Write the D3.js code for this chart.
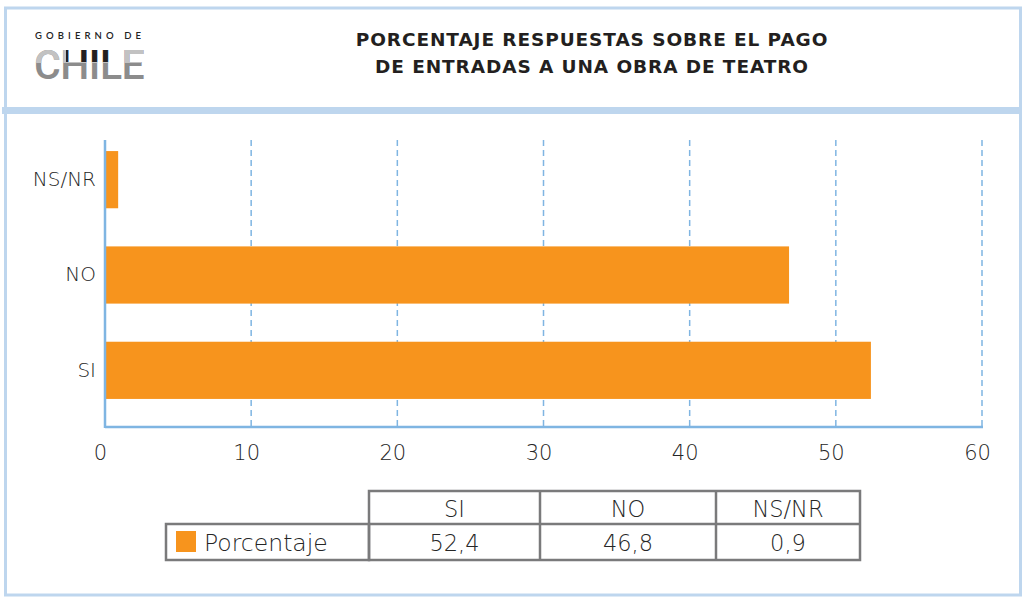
<!DOCTYPE html>
<html>
<head>
<meta charset="utf-8">
<script src="https://cdn.jsdelivr.net/npm/d3@7"></script>
<style>
  body { margin: 0; background: #fff; }
  svg { display: block; font-family: "DejaVu Sans", sans-serif; }
</style>
</head>
<body>
<svg id="chart" width="1023" height="599"></svg>
<script>
// data
var categories = ["SI", "NO", "NS/NR"];
var values = [52.4, 46.8, 0.9];
var valueLabels = ["52,4", "46,8", "0,9"];
var seriesName = "Porcentaje";
var xTicks = [0, 10, 20, 30, 40, 50, 60];
var titleLines = ["PORCENTAJE RESPUESTAS SOBRE EL PAGO", "DE ENTRADAS A UNA OBRA DE TEATRO"];

var orange = "#f7941d";
var frameBlue = "#bed6ee";
var gridBlue = "#7fb5e2";
var lightFont = "'DejaVu Sans', sans-serif";
var textColor = "#262626";

var svg = d3.select("#chart");

// frame
svg.append("rect")
  .attr("x", 5.5).attr("y", 8)
  .attr("width", 1015).attr("height", 587)
  .attr("fill", "none")
  .attr("stroke", frameBlue)
  .attr("stroke-width", 3);

svg.append("rect")
  .attr("x", 2).attr("y", 107)
  .attr("width", 1019).attr("height", 7)
  .attr("fill", frameBlue);

// logo
svg.append("text")
  .attr("x", 35).attr("y", 39)
  .attr("font-size", 9.5)
  .attr("font-family", "Lato, sans-serif")
  .attr("font-weight", 600)
  .attr("letter-spacing", 4.1)
  .attr("fill", "#222")
  .text("GOBIERNO DE");

var defs = svg.append("defs");
defs.append("clipPath").attr("id", "logoTop")
  .append("rect").attr("x", 30).attr("y", 40).attr("width", 125).attr("height", 23);
defs.append("clipPath").attr("id", "logoDark")
  .append("rect").attr("x", 66).attr("y", 40).attr("width", 55).attr("height", 22);

function logoWord(fill, clip) {
  var t = svg.append("text")
    .attr("x", 34).attr("y", 79)
    .attr("font-size", 41)
    .attr("font-family", "Roboto, sans-serif")
    .attr("font-weight", 500)
    .attr("letter-spacing", -0.5)
    .attr("fill", fill)
    .text("CHILE");
  if (clip) t.attr("clip-path", "url(#" + clip + ")");
  return t;
}
logoWord("#8c8c8c");
logoWord("#c2c2c2", "logoTop");
logoWord("#231f20", "logoDark");

// title
svg.selectAll(".title")
  .data(titleLines)
  .enter()
  .append("text")
  .attr("class", "title")
  .attr("x", 592)
  .attr("y", function(d, i) { return 46 + i * 27; })
  .attr("text-anchor", "middle")
  .attr("font-size", 18.5)
  .attr("font-weight", 700)
  .attr("letter-spacing", 0.9)
  .attr("fill", "#231f20")
  .text(function(d) { return d; });

// scales
var plotLeft = 105, plotRight = 982, plotTop = 140, plotBottom = 427;

var xScale = d3.scaleLinear()
  .domain([0, 60])
  .range([plotLeft, plotRight]);

var yScale = d3.scaleBand()
  .domain(categories.slice().reverse())
  .range([132, 418])
  .paddingInner(0.4)
  .paddingOuter(0.2);

// gridlines
svg.append("g")
  .selectAll("line")
  .data(xTicks.slice(1))
  .enter()
  .append("line")
  .attr("x1", function(d) { return xScale(d); })
  .attr("x2", function(d) { return xScale(d); })
  .attr("y1", plotTop)
  .attr("y2", plotBottom)
  .attr("stroke", gridBlue)
  .attr("stroke-width", 1.5)
  .attr("stroke-dasharray", "6,4");

// bars
svg.append("g")
  .selectAll("rect")
  .data(categories)
  .enter()
  .append("rect")
  .attr("x", xScale(0))
  .attr("y", function(d) { return yScale(d); })
  .attr("width", function(d, i) { return xScale(values[i]) - xScale(0); })
  .attr("height", yScale.bandwidth())
  .attr("fill", orange);

// axis lines
svg.append("line")
  .attr("x1", plotLeft).attr("x2", plotLeft)
  .attr("y1", plotTop).attr("y2", plotBottom + 1)
  .attr("stroke", gridBlue).attr("stroke-width", 2.5);

svg.append("line")
  .attr("x1", plotLeft).attr("x2", plotRight + 1)
  .attr("y1", plotBottom).attr("y2", plotBottom)
  .attr("stroke", gridBlue).attr("stroke-width", 2.5);

// axes
var xAxis = svg.append("g")
  .attr("transform", "translate(0," + plotBottom + ")")
  .call(d3.axisBottom(xScale).tickValues(xTicks).tickSize(0).tickPadding(18));
xAxis.select(".domain").remove();
xAxis.attr("font-family", lightFont).attr("font-size", 21);
xAxis.selectAll("text").attr("font-weight", 200).attr("fill", textColor).attr("dx", -5);

var yAxis = svg.append("g")
  .attr("transform", "translate(" + plotLeft + ",0)")
  .call(d3.axisLeft(yScale).tickSize(0).tickPadding(9));
yAxis.select(".domain").remove();
yAxis.attr("font-family", lightFont).attr("font-size", 20);
yAxis.selectAll("text").attr("font-weight", 200).attr("fill", textColor);

// data table
var colEdges = [369, 540, 716, 860];
var rowTop = 491, rowMid = 524, rowBottom = 560;
var labelLeft = 166;
var tableGrey = "#7a7a7b";

var table = svg.append("g")
  .attr("font-family", lightFont)
  .attr("font-weight", 200)
  .attr("fill", textColor);

table.append("rect")
  .attr("x", colEdges[0]).attr("y", rowTop)
  .attr("width", colEdges[3] - colEdges[0]).attr("height", rowBottom - rowTop)
  .attr("fill", "none").attr("stroke", tableGrey).attr("stroke-width", 2.5);

table.append("rect")
  .attr("x", labelLeft).attr("y", rowMid)
  .attr("width", colEdges[0] - labelLeft).attr("height", rowBottom - rowMid)
  .attr("fill", "none").attr("stroke", tableGrey).attr("stroke-width", 2.5);

table.append("line")
  .attr("x1", colEdges[0]).attr("x2", colEdges[3])
  .attr("y1", rowMid).attr("y2", rowMid)
  .attr("stroke", tableGrey).attr("stroke-width", 2.5);

table.selectAll(".colsep")
  .data(colEdges.slice(1, 3))
  .enter()
  .append("line")
  .attr("x1", function(d) { return d; }).attr("x2", function(d) { return d; })
  .attr("y1", rowTop).attr("y2", rowBottom)
  .attr("stroke", tableGrey).attr("stroke-width", 2.5);

table.selectAll(".head")
  .data(categories)
  .enter()
  .append("text")
  .attr("x", function(d, i) { return (colEdges[i] + colEdges[i + 1]) / 2; })
  .attr("y", 517)
  .attr("text-anchor", "middle")
  .attr("font-size", 22.5)
  .text(function(d) { return d; });

table.selectAll(".val")
  .data(valueLabels)
  .enter()
  .append("text")
  .attr("x", function(d, i) { return (colEdges[i] + colEdges[i + 1]) / 2; })
  .attr("y", 551)
  .attr("text-anchor", "middle")
  .attr("font-size", 22.5)
  .text(function(d) { return d; });

table.append("rect")
  .attr("x", 176).attr("y", 531)
  .attr("width", 20).attr("height", 21)
  .attr("fill", orange);

table.append("text")
  .attr("x", 204).attr("y", 551)
  .attr("font-size", 23.5)
  .text(seriesName);
</script>
</body>
</html>
